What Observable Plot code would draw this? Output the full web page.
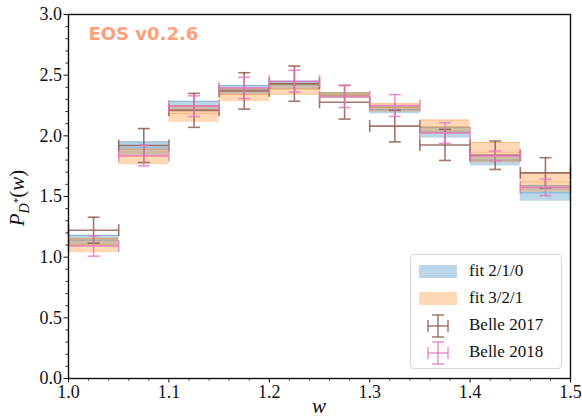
<!DOCTYPE html>
<html>
<head>
<meta charset="utf-8">
<script src="https://cdn.jsdelivr.net/npm/d3@7"></script>
<script src="https://cdn.jsdelivr.net/npm/@observablehq/plot@0.6"></script>
<style>
  html, body { margin: 0; padding: 0; background: #fff; }
  #wrap { position: relative; width: 582px; height: 420px; }
  .legend { position: absolute; left: 410px; top: 254px; width: 150px; height: 113px;
    border: 1px solid #d6d6d6; border-radius: 4px; background: rgba(255,255,255,0.85);
    font-family: "Liberation Serif", "Times New Roman", "DejaVu Serif", serif; font-size: 17px; color: #111; }
  .legend .row { position: absolute; left: 0; height: 22px; width: 150px; }
  .legend .row span { position: absolute; left: 58px; top: 1px; white-space: nowrap; }
  .legend svg { position: absolute; left: 7px; top: 0; }
  #wrap svg text, #wrap svg g[aria-label$="axis tick label"] { font-family: "Liberation Serif", "Times New Roman", "DejaVu Serif", serif !important; }
  #wrap svg g[aria-label="text"], #wrap svg g[aria-label="text"] text { font-family: "DejaVu Sans", sans-serif !important; }
</style>
</head>
<body>
<div id="wrap"></div>
<script>
// ---- data ----
const wLow  = [1.00, 1.05, 1.10, 1.15, 1.20, 1.25, 1.30, 1.35, 1.40, 1.45];
const wHigh = [1.05, 1.10, 1.15, 1.20, 1.25, 1.30, 1.35, 1.40, 1.45, 1.50];

const fit210Mid = [1.14, 1.90, 2.25, 2.38, 2.42, 2.335, 2.215, 2.03, 1.80, 1.53];
const fit210Err = [0.04, 0.05, 0.035, 0.035, 0.03, 0.02, 0.025, 0.04, 0.04, 0.06];
const fit321Mid = [1.10, 1.83, 2.185, 2.34, 2.385, 2.335, 2.235, 2.075, 1.865, 1.62];
const fit321Err = [0.055, 0.06, 0.065, 0.05, 0.045, 0.02, 0.03, 0.055, 0.08, 0.075];

const belle2017    = [1.222, 1.92, 2.21, 2.37, 2.43, 2.277, 2.08, 1.925, 1.84, 1.695];
const belle2017Err = [0.107, 0.14, 0.14, 0.15, 0.145, 0.139, 0.13, 0.128, 0.117, 0.125];
const belle2018    = [1.092, 1.837, 2.245, 2.395, 2.45, 2.324, 2.25, 2.023, 1.835, 1.575];
const belle2018Err = [0.084, 0.085, 0.085, 0.088, 0.09, 0.091, 0.09, 0.085, 0.04, 0.068];

const yMajor = [0, 0.5, 1.0, 1.5, 2.0, 2.5, 3.0];
const xMajor = [1.0, 1.1, 1.2, 1.3, 1.4, 1.5];
const labelText = "EOS v0.2.6";
const seriesNames = ["fit 2/1/0", "fit 3/2/1", "Belle 2017", "Belle 2018"];

// ---- tables ----
const bands = (mid, err) => wLow.map((lo, i) => ({lo, hi: wHigh[i], c: mid[i], y1: mid[i] - err[i], y2: mid[i] + err[i]}));
const points = (val, err) => wLow.map((lo, i) => ({lo, hi: wHigh[i], x: (lo + wHigh[i]) / 2, y: val[i], y1: val[i] - err[i], y2: val[i] + err[i]}));
const b210 = bands(fit210Mid, fit210Err);
const b321 = bands(fit321Mid, fit321Err);
const p17 = points(belle2017, belle2017Err);
const p18 = points(belle2018, belle2018Err);

const BLUE = "#1f77b4", ORANGE = "#ff7f0e", BROWN = "#8c564b", PINK = "#e377c2";
const capH = {draw(ctx) { ctx.moveTo(-6, 0); ctx.lineTo(6, 0); }};
const capV = {draw(ctx) { ctx.moveTo(0, -6); ctx.lineTo(0, 6); }};

function bandMarks(b, color) {
  return [
    Plot.rect(b, {x1: "lo", x2: "hi", y1: "y1", y2: "y2", fill: color, fillOpacity: 0.3}),
    Plot.ruleY(b, {x1: "lo", x2: "hi", y: "y1", stroke: color, strokeOpacity: 0.35, strokeWidth: 1}),
    Plot.ruleY(b, {x1: "lo", x2: "hi", y: "y2", stroke: color, strokeOpacity: 0.35, strokeWidth: 1}),
    Plot.ruleY(b, {x1: "lo", x2: "hi", y: "c", stroke: color, strokeOpacity: 0.4, strokeWidth: 1})
  ];
}
function errMarks(p, color) {
  const o = {stroke: color, strokeOpacity: 0.8, strokeWidth: 1.6};
  return [
    Plot.ruleX(p, {x: "x", y1: "y1", y2: "y2", ...o}),
    Plot.ruleY(p, {x1: "lo", x2: "hi", y: "y", ...o}),
    Plot.dot(p, {x: "x", y: "y1", symbol: capH, fill: "none", ...o}),
    Plot.dot(p, {x: "x", y: "y2", symbol: capH, fill: "none", ...o}),
    Plot.dot(p, {x: "lo", y: "y", symbol: capV, fill: "none", ...o}),
    Plot.dot(p, {x: "hi", y: "y", symbol: capV, fill: "none", ...o})
  ];
}

const xMinor = d3.range(1.0, 1.5001, 0.02).map(v => +v.toFixed(2)).filter(v => !xMajor.some(m => Math.abs(m - v) < 1e-9));
const yMinor = d3.range(0, 3.0001, 0.1).map(v => +v.toFixed(1)).filter(v => !yMajor.some(m => Math.abs(m - v) < 1e-9));

const SERIF = "Liberation Serif, Times New Roman, DejaVu Serif, serif";
const chart = Plot.plot({
  width: 582, height: 420,
  marginLeft: 68, marginRight: 12, marginTop: 14, marginBottom: 42,
  style: {fontSize: "18px", color: "#111", background: "white"},
  x: {domain: [1.0, 1.5]},
  y: {domain: [0, 3.0]},
  marks: [
    ...bandMarks(b210, BLUE),
    ...bandMarks(b321, ORANGE),
    ...errMarks(p17, BROWN),
    ...errMarks(p18, PINK),
    Plot.axisY(yMinor, {tickSize: 2.5, tickFormat: null, text: null, label: null, strokeWidth: 0.9}),
    Plot.axisX(xMinor, {tickSize: 2.5, tickFormat: null, text: null, label: null, strokeWidth: 0.9}),
    Plot.axisY(yMajor, {tickSize: 4.5, tickPadding: 2, tickFormat: d3.format(".1f"), label: null, strokeWidth: 1, fontSize: 18, fontFamily: SERIF}),
    Plot.axisX(xMajor, {tickSize: 4.5, tickPadding: 2, tickFormat: d3.format(".1f"), label: null, strokeWidth: 1, fontSize: 18, fontFamily: SERIF}),
    Plot.text([labelText], {frameAnchor: "top-left", dx: 20, dy: 13, text: d => d, textAnchor: "start", lineAnchor: "top",
      fill: "#ffa07a", fontFamily: "DejaVu Sans", fontWeight: "bold", fontSize: 18}),
    Plot.frame({stroke: "#111", strokeWidth: 1.4})
  ]
});

const wrap = document.getElementById("wrap");
wrap.appendChild(chart);

// axis labels with sub/superscripts
const svg = d3.select(chart);
const yl = svg.append("text")
  .attr("transform", "translate(24,198) rotate(-90)")
  .attr("text-anchor", "middle")
  .attr("font-size", 21)
  .attr("fill", "#111");
yl.append("tspan").attr("font-style", "italic").text("P");
yl.append("tspan").attr("font-style", "italic").attr("font-size", 14).attr("dy", 5).text("D");
yl.append("tspan").attr("font-size", 11).attr("dy", -8).text("*");
yl.append("tspan").attr("dy", 3).text("(");
yl.append("tspan").attr("font-style", "italic").text("w");
yl.append("tspan").text(")");

svg.append("text")
  .attr("x", 319).attr("y", 413)
  .attr("text-anchor", "middle")
  .attr("font-size", 21).attr("font-style", "italic")
  .attr("fill", "#111")
  .text("w");

// legend
const legend = document.createElement("div");
legend.className = "legend";
const icons = [
  `<svg width="40" height="22"><rect x="1" y="5" width="38" height="13" fill="${BLUE}" fill-opacity="0.3"/></svg>`,
  `<svg width="40" height="22"><rect x="1" y="5" width="38" height="13" fill="${ORANGE}" fill-opacity="0.3"/></svg>`,
  `<svg width="40" height="24"><g stroke="${BROWN}" stroke-opacity="0.8" stroke-width="1.5"><line x1="20" y1="1" x2="20" y2="23"/><line x1="14" y1="1" x2="26" y2="1"/><line x1="14" y1="23" x2="26" y2="23"/><line x1="10" y1="12" x2="30" y2="12"/><line x1="10" y1="6" x2="10" y2="18"/><line x1="30" y1="6" x2="30" y2="18"/></g></svg>`,
  `<svg width="40" height="24"><g stroke="${PINK}" stroke-opacity="0.8" stroke-width="1.5"><line x1="20" y1="1" x2="20" y2="23"/><line x1="14" y1="1" x2="26" y2="1"/><line x1="14" y1="23" x2="26" y2="23"/><line x1="10" y1="12" x2="30" y2="12"/><line x1="10" y1="6" x2="10" y2="18"/><line x1="30" y1="6" x2="30" y2="18"/></g></svg>`
];
const rowTops = [5, 32, 59, 86];
seriesNames.forEach((name, i) => {
  const row = document.createElement("div");
  row.className = "row";
  row.style.top = rowTops[i] + "px";
  row.innerHTML = icons[i] + `<span>${name}</span>`;
  legend.appendChild(row);
});
wrap.appendChild(legend);
</script>
</body>
</html>
